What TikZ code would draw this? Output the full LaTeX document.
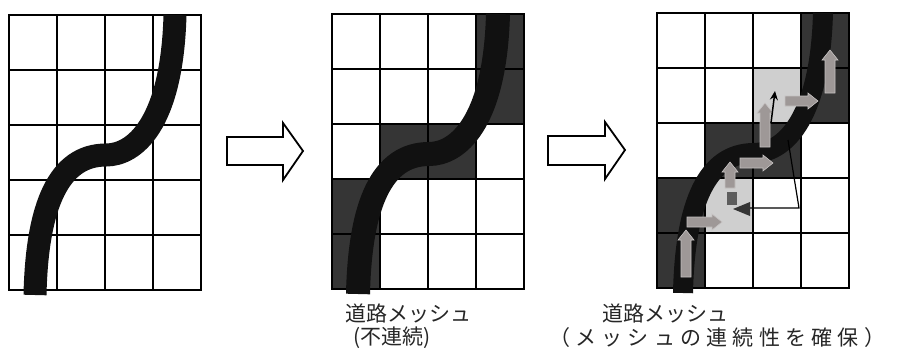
\documentclass[tikz,border=0pt]{standalone}
\usepackage{fontspec}
\usetikzlibrary{arrows.meta}
\newfontfamily\jp{Noto Sans CJK JP}
\definecolor{dk}{HTML}{353535}
\definecolor{lt}{HTML}{CFCFCF}
\definecolor{rd}{HTML}{111111}
\definecolor{ar}{HTML}{9E9897}
\newcommand{\road}{(26,280) .. controls (28,190) and (50,140) .. (97,140)
                            .. controls (125,140) and (163,110) .. (166,0)}
\newcommand{\cell}[3]{\fill[#3] (48*#1-48,55*#2-55) rectangle (48*#1,55*#2);}
\newcommand{\harr}[3]{\filldraw[arw] (#1,#3-5) -- (#2-10,#3-5) -- (#2-10,#3-8) -- (#2,#3)
                       -- (#2-10,#3+8) -- (#2-10,#3+5) -- (#1,#3+5) -- cycle;}
\newcommand{\varr}[3]{\filldraw[arw] (#1-5,#2) -- (#1-5,#3+10) -- (#1-8,#3+10) -- (#1,#3)
                       -- (#1+8,#3+10) -- (#1+5,#3+10) -- (#1+5,#2) -- cycle;}

\begin{document}
\begin{tikzpicture}[x=1pt,y=-1pt,
    grd/.style={line width=1.8pt,black},
    blk/.style={line width=1.8pt,black,fill=white,line join=miter},
    arw/.style={fill=ar,draw=ar!60!white,line width=0.6pt},
    lbl/.style={font=\jp\fontsize{21pt}{25pt}\selectfont,inner sep=0pt,text=black!85}]
  \useasboundingbox (0,0) rectangle (908,359);

  \begin{scope}[shift={(9,15)}]
    \draw[grd] (0,0) rectangle (192,275);
    \draw[grd] ( 48,0) -- ( 48,275);
    \draw[grd] ( 96,0) -- ( 96,275);
    \draw[grd] (144,0) -- (144,275);
    \draw[grd] (0, 55) -- (192, 55);
    \draw[grd] (0,110) -- (192,110);
    \draw[grd] (0,165) -- (192,165);
    \draw[grd] (0,220) -- (192,220);
    \draw[rd,line width=23pt] \road;
  \end{scope}

  \draw[blk] (227,137) -- (283,137) -- (283,123) -- (303,151)
          -- (283,180) -- (283,165) -- (227,165) -- cycle;

  \begin{scope}[shift={(332,14)}]
    \cell{4}{1}{dk} \cell{4}{2}{dk}
    \cell{2}{3}{dk} \cell{3}{3}{dk}
    \cell{1}{4}{dk} \cell{1}{5}{dk}
    \draw[grd] (0,0) rectangle (192,275);
    \draw[grd] ( 48,0) -- ( 48,275);
    \draw[grd] ( 96,0) -- ( 96,275);
    \draw[grd] (144,0) -- (144,275);
    \draw[grd] (0, 55) -- (192, 55);
    \draw[grd] (0,110) -- (192,110);
    \draw[grd] (0,165) -- (192,165);
    \draw[grd] (0,220) -- (192,220);
    \draw[rd,line width=24pt] \road;
  \end{scope}

  \draw[blk] (548,136) -- (605,136) -- (605,122) -- (625,150)
          -- (605,179) -- (605,165) -- (548,165) -- cycle;

  \begin{scope}[shift={(657,13)}]
    \cell{4}{1}{dk} \cell{4}{2}{dk}
    \cell{3}{2}{lt}
    \cell{2}{3}{dk} \cell{3}{3}{dk}
    \cell{1}{4}{dk} \cell{2}{4}{lt}
    \cell{1}{5}{dk}
    \draw[grd] (0,0) rectangle (192,275);
    \draw[grd] ( 48,0) -- ( 48,275);
    \draw[grd] ( 96,0) -- ( 96,275);
    \draw[grd] (144,0) -- (144,275);
    \draw[grd] (0, 55) -- (192, 55);
    \draw[grd] (0,110) -- (192,110);
    \draw[grd] (0,165) -- (192,165);
    \draw[grd] (0,220) -- (192,220);
    \draw[rd,line width=20pt] \road;
    \fill[dk!80!white] (70,179) rectangle (80,192);
    \draw[line width=1.2pt] (131,127) -- (142,195) -- (93,195);
    \fill[dk] (76,196) -- (93,189) -- (93,203) -- cycle;
    \varr{ 29}{264}{217}
    \harr{ 30}{ 65}{209}
    \varr{ 73}{175}{149}
    \harr{ 83}{116}{150}
    \varr{108}{134}{ 90}
    \draw[-{Stealth[length=9pt,width=8pt]},line width=1.5pt] (114,110) -- (118,78);
    \harr{128}{161}{ 88}
    \varr{173}{ 80}{ 37}
  \end{scope}

  \node[lbl] (mesh1) at (408,313) {道路メッシュ};
  \node[lbl] (note1) at (392,338) {(不連続)};
  \node[lbl] (mesh2) at (665,313) {道路メッシュ};
  \node[lbl] (note2) at (717,338) {\addfontfeatures{LetterSpace=25}（メッシュの連続性を確保）};
\end{tikzpicture}
\end{document}
